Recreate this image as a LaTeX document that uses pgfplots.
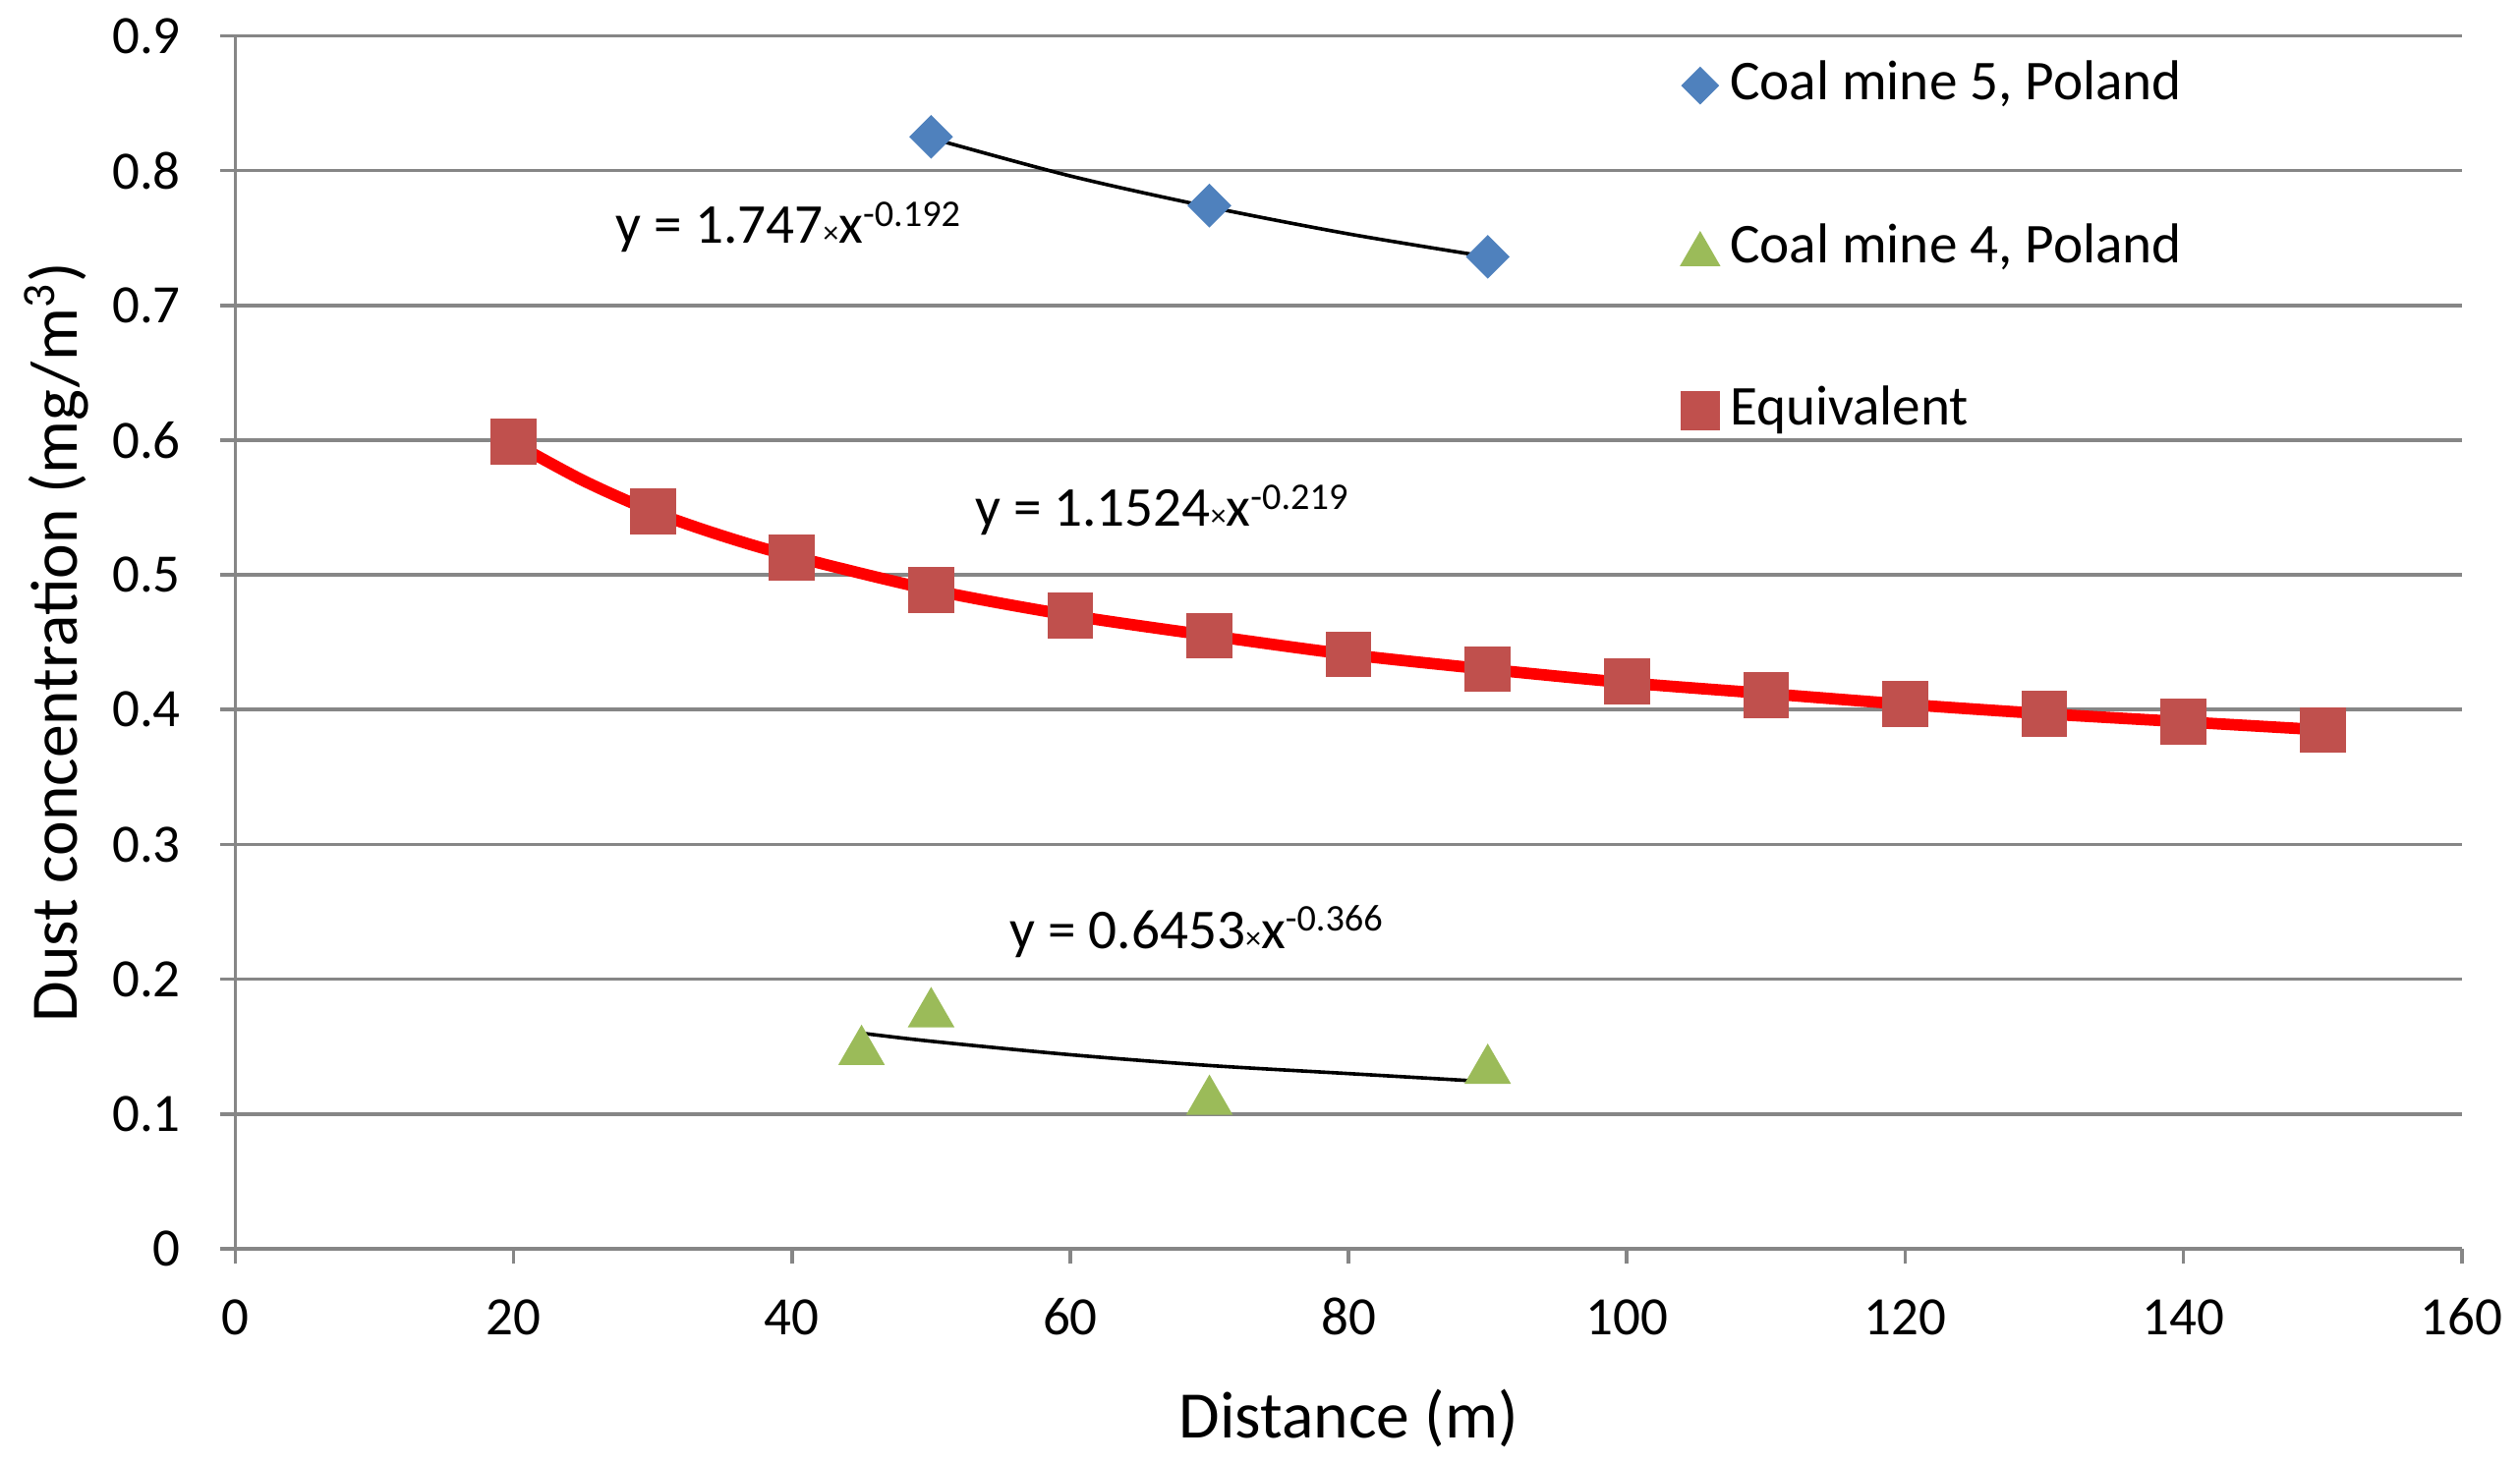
\documentclass[border=0pt]{standalone}
\usepackage{fontspec}
\setmainfont{Carlito}
\usepackage{pgfplots}
\pgfplotsset{compat=1.18}

\definecolor{gridgray}{HTML}{868686}
\definecolor{mineblue}{HTML}{4F81BD}
\definecolor{minegreen}{HTML}{9BBB59}
\definecolor{eqred}{HTML}{C0504D}

\pgfplotsset{
  markonly/.style={legend image code/.code={\draw[##1, every mark/.append style={scale=0.86}] plot coordinates {(0cm,0cm)};}},
}
\newcommand\eqx{{\fontsize{7}{8}\selectfont ×}}
\newcommand\eqsup[1]{\raisebox{3.8pt}{\fontsize{8.5}{9}\selectfont #1}}

\begin{document}
\begin{tikzpicture}
\begin{axis}[
  scale only axis, width=17.67cm, height=9.63cm,
  xmin=0, xmax=160, ymin=0, ymax=0.9,
  axis x line=bottom, axis y line=left,
  axis line style={gridgray, line width=0.8pt, -},
  xtick={0,20,40,60,80,100,120,140,160},
  ytick={0,0.1,0.2,0.3,0.4,0.5,0.6,0.7,0.8,0.9},
  yticklabels={0,0.1,0.2,0.3,0.4,0.5,0.6,0.7,0.8,0.9},
  ymajorgrids, grid style={gridgray, line width=0.8pt},
  tick align=outside, major tick length=0.12cm,
  tick style={gridgray, line width=0.8pt},
  /pgf/number format/assume math mode=true,
  tick label style={font=\fontsize{12.2}{14}\selectfont, inner sep=0pt},
  xticklabel style={anchor=base, yshift=-0.559cm},
  yticklabel style={anchor=east, xshift=-0.307cm},
  xlabel={Distance (m)},
  ylabel={Dust concentration (mg/m\textsuperscript{3})},
  label style={font=\fontsize{15}{18}\selectfont},
  xlabel style={at={(axis description cs:0.5,-0.1556)}, anchor=base},
  ylabel style={at={(axis description cs:-0.0804,0.5)}, anchor=center},
  legend style={draw=none, fill=none, at={(axis description cs:0.649,0.9807)},
    anchor=north west, inner sep=0pt, row sep=0.886cm, column sep=0.085cm,
    nodes={inner sep=0pt, text height=9pt, text depth=2.5pt},
    font=\fontsize{12.7}{15}\selectfont},
  legend cell align=left,
]
% measured points
\addplot[mineblue, only marks, mark=square*, mark size=0.116cm,
  mark options={rotate=45}, markonly]
  coordinates {(50,0.825) (70,0.774) (90,0.736)};
\addlegendentry{Coal mine 5, Poland}

\addplot[minegreen, only marks, mark=triangle*, mark size=0.2cm,
  mark options={yshift=-0.05cm}, markonly]
  coordinates {(45,0.151) (50,0.179) (70,0.114) (90,0.137)};
\addlegendentry{Coal mine 4, Poland}

\addplot[eqred, only marks, mark=square*, mark size=0.175cm, markonly]
  coordinates {(20,0.599) (30,0.547) (40,0.513) (50,0.489) (60,0.470)
    (70,0.455) (80,0.441) (90,0.430) (100,0.421) (110,0.411) (120,0.404)
    (130,0.397) (140,0.391) (150,0.385)};
\addlegendentry{Equivalent}

% power trendlines
\addplot[black, line width=0.8pt, smooth, forget plot]
  coordinates {(50,0.824) (60,0.796) (70,0.773) (80,0.753) (90,0.736)};
\addplot[red, line width=2.6pt, smooth, forget plot]
  coordinates {(20,0.598) (25,0.570) (30,0.547) (35,0.529) (40,0.514)
    (50,0.489) (60,0.470) (70,0.455) (80,0.441) (90,0.430) (100,0.420)
    (110,0.412) (120,0.404) (130,0.397) (140,0.391) (150,0.385)};
\addplot[black, line width=0.8pt, smooth, forget plot]
  coordinates {(45,0.160) (50,0.154) (60,0.144) (70,0.136) (80,0.130) (90,0.124)};

\node[anchor=base west, inner sep=0pt, font=\fontsize{12.7}{15}\selectfont]
  at (axis cs:27.3,0.746) {y = 1.747\eqx x\eqsup{-0.192}};
\node[anchor=base west, inner sep=0pt, font=\fontsize{12.7}{15}\selectfont]
  at (axis cs:53.1,0.536) {y = 1.1524\eqx x\eqsup{-0.219}};
\node[anchor=base west, inner sep=0pt, font=\fontsize{12.7}{15}\selectfont]
  at (axis cs:55.6,0.223) {y = 0.6453\eqx x\eqsup{-0.366}};
\end{axis}
\pgfresetboundingbox
\path (-1.868cm,-1.693cm) rectangle (18.132cm,9.914cm);
\end{tikzpicture}
\end{document}
